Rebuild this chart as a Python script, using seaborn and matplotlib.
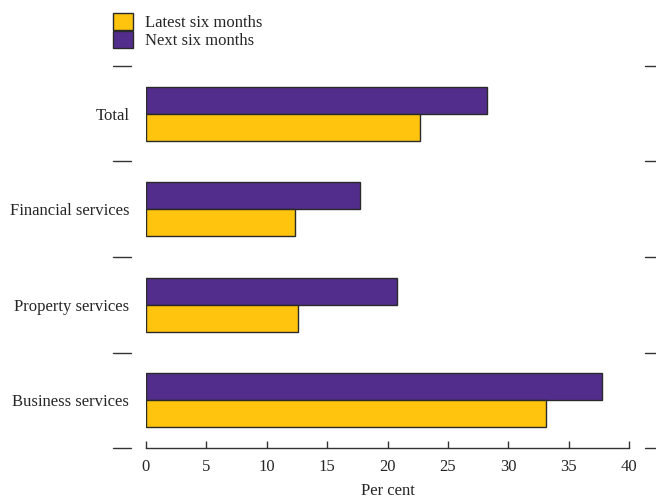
import matplotlib
matplotlib.use("Agg")
import matplotlib.pyplot as plt
from matplotlib.patches import Patch
import seaborn as sns
import pandas as pd

# data (per cent)
categories = ["Total", "Financial services", "Property services", "Business services"]
latest_six = [22.7, 12.3, 12.6, 33.1]
next_six = [28.2, 17.7, 20.8, 37.8]
series = ["Latest six months", "Next six months"]
colours = {"Latest six months": "#FEC40E", "Next six months": "#522D8C"}
xticks = [0, 5, 10, 15, 20, 25, 30, 35, 40]

df = pd.DataFrame({
    "category": categories * 2,
    "value": latest_six + next_six,
    "period": [series[0]] * 4 + [series[1]] * 4,
})

sns.set_style("white")
plt.rcParams["font.family"] = ["Liberation Serif", "DejaVu Serif"]

fig = plt.figure(figsize=(6.56, 5.01), dpi=100)
ax = fig.add_axes([146 / 656, 53 / 501, 483 / 656, 382 / 501])

# next six months drawn on top within each group
sns.barplot(data=df, x="value", y="category", hue="period", orient="h",
            hue_order=[series[1], series[0]], palette=colours, width=0.57,
            edgecolor="#2a2a2a", linewidth=1, saturation=1, legend=False, ax=ax)

ax.set_xlim(0, 40)
ax.set_ylim(3.5, -0.5)
ax.set_xticks(xticks)
ax.set_xticklabels([str(t) for t in xticks], fontsize=12)
ax.tick_params(axis="x", bottom=True, direction="in", length=5, width=1, color="#333333", pad=8)
ax.tick_params(axis="y", left=False, length=0, pad=12, labelsize=12)
ax.set_xlabel("Per cent", fontsize=12, labelpad=6)
ax.set_ylabel("")

for side in ["top", "left", "right"]:
    ax.spines[side].set_visible(False)
ax.spines["bottom"].set_color("#333333")
ax.spines["bottom"].set_linewidth(1)

# separator dashes on both sides between categories
trans = ax.get_yaxis_transform()
for yy in [-0.5, 0.5, 1.5, 2.5, 3.5]:
    ax.plot([-0.068, -0.031], [yy, yy], transform=trans, color="#333333", lw=1, clip_on=False)
    ax.plot([1.033, 1.06], [yy, yy], transform=trans, color="#333333", lw=1, clip_on=False)

handles = [Patch(facecolor=colours[s], edgecolor="#2a2a2a", linewidth=1) for s in series]
fig.legend(handles, series, loc="upper left", bbox_to_anchor=(113 / 656, 1 - 13 / 501),
           frameon=False, fontsize=12, borderpad=0, borderaxespad=0,
           handlelength=1.2, handleheight=1.2, labelspacing=0, handletextpad=0.7)

fig.savefig("out.png", dpi=100)
